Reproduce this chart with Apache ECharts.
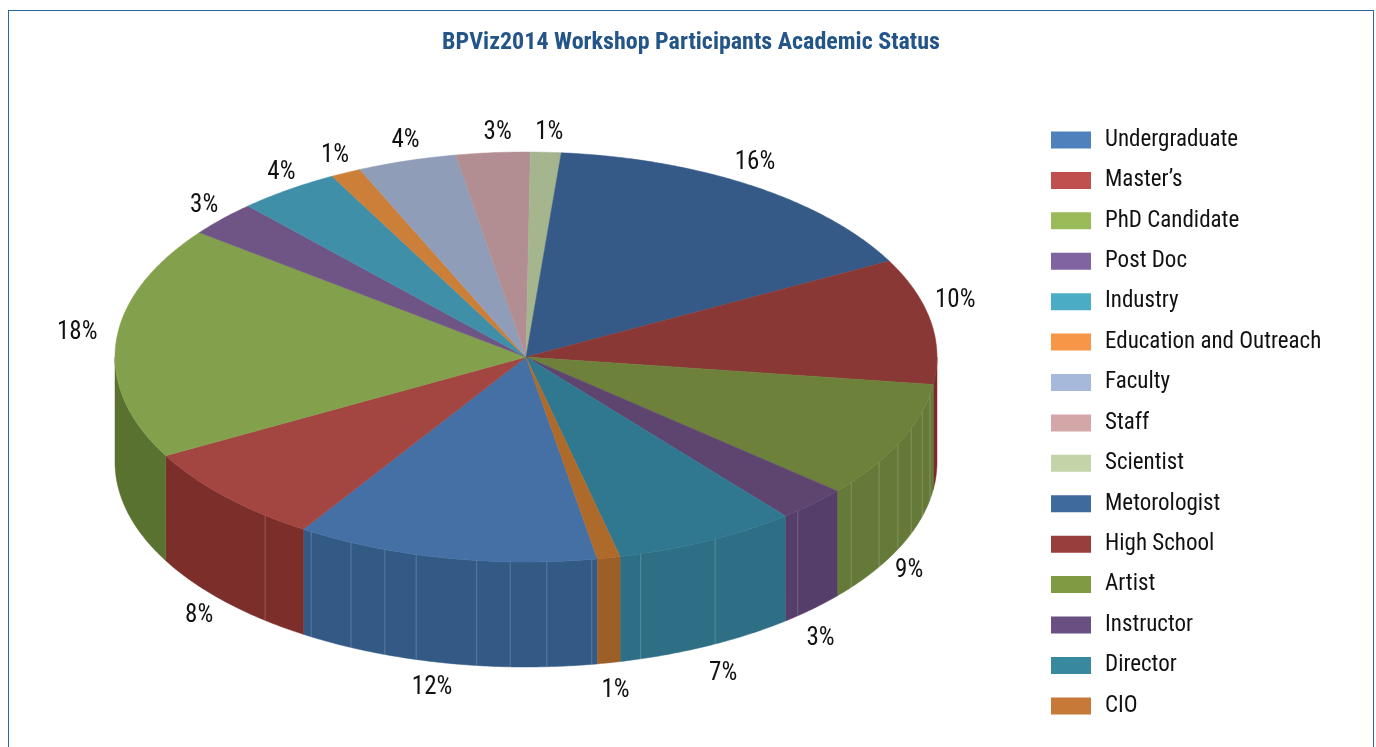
<!DOCTYPE html>
<html>
<head>
<meta charset="utf-8">
<title>BPViz2014 Workshop Participants Academic Status</title>
<script src="https://cdn.jsdelivr.net/npm/echarts@6/dist/echarts.min.js"></script>
<style>
  html, body { margin: 0; height: 100%; overflow: hidden; background: #fff; }
  #frame { position: absolute; left: 8px; top: 10px; width: 1364px; height: 800px; border: 1.5px solid #2f63a0; }
  #main { position: absolute; left: 0; top: 0; width: 1376px; height: 747px; }
</style>
</head>
<body>
<div id="frame"></div>
<div id="main"></div>
<script>
const categories = ['Undergraduate', 'Master’s', 'PhD Candidate', 'Post Doc', 'Industry', 'Education and Outreach', 'Faculty', 'Staff', 'Scientist', 'Metorologist', 'High School', 'Artist', 'Instructor', 'Director', 'CIO']
// percent shares
const shares = [11.9, 7.9, 18.4, 2.8, 4.0, 1.2, 3.9, 2.9, 1.2, 15.9, 9.9, 9.2, 2.8, 7.2, 0.9]

const legendColors = ['#4f81bd', '#c0504d', '#9bbb59', '#8064a2', '#4bacc6', '#f79646', '#a7b9da', '#d3a6a8', '#c2d4a8', '#3f6a9e', '#983f3d', '#7f9a43', '#6a5082', '#38899f', '#c77a38']
const topColors = ['#4470a5', '#a34540', '#83a04c', '#6f5585', '#3f8fa8', '#cb7f38', '#8f9db9', '#b28e92', '#a5b58e', '#355a87', '#893836', '#6d813b', '#5d4570', '#2f788f', '#ad6a2b']
const wallColors = ['#335a85', '#7b2e2a', '#5a7230', '#4f3a60', '#2e6f85', '#a56b30', '#7a86a0', '#97787c', '#8c9a78', '#2c4c72', '#7a2c2a', '#657a38', '#553e6a', '#2e6f85', '#9b5f27']

// faint vertical seams on the side wall, as angles clockwise from 12 o'clock
const wallSeams = [100.6, 105.4, 110.4, 115.2, 120.8, 127.7, 138.6, 152.6, 163.8, 170.8, 177.1, 182.2, 186.9, 195.5, 200.1, 205.2, 211.5, 219.4]
// label shift from the default ring, [dx, dy] per category
const labelShift = [[-7, 2], [-5, -2], [-10, -7], [3, 3], [10, 2], [2, 4], [7, 2], [7, 3], [2, 3], [-14, -4], [-4, -16], [-18, 15], [-12, 13], [3, 7], [1, 5]]

const FONT = '"Roboto Condensed", "Liberation Sans", sans-serif'
const pie = {cx: 526, cy: 357, rx: 411, ry: 205, depth: 105, startDeg: 170, labelRx: 440, labelRy: 228}

const total = shares.reduce((a, b) => a + b, 0)
const bounds = [pie.startDeg]
shares.forEach((v, i) => bounds.push(bounds[i] + v / total * 360))

// angle is clockwise from 12 o'clock
const rim = (deg, dy = 0) => {
  const r = deg * Math.PI / 180
  return [pie.cx + pie.rx * Math.sin(r), pie.cy - pie.ry * Math.cos(r) + dy]
}

const arc = (from, to, dy = 0) => {
  const pts = []
  const n = Math.max(2, Math.ceil((to - from) * 2))
  for (let i = 0; i <= n; i++) pts.push(rim(from + (to - from) * i / n, dy))
  return pts
}

// part of a slice's rim which faces the viewer (90..270, also after one full turn)
const frontPart = (from, to) => {
  const parts = []
  ;[0, 360].forEach(turn => {
    const a = Math.max(from, 90 + turn)
    const b = Math.min(to, 270 + turn)
    if (b > a) parts.push([a, b])
  })
  return parts
}

const renderSlice = (params) => {
  const i = params.seriesIndex
  const from = bounds[i]
  const to = bounds[i + 1]
  const mid = (from + to) / 2
  const children = []

  frontPart(from, to).forEach(([a, b]) => {
    const points = arc(a, b).concat(arc(a, b, pie.depth).reverse())
    children.push({
      type: 'polygon',
      z2: 1,
      shape: {points},
      style: {fill: wallColors[i], stroke: wallColors[i], lineWidth: 0.5}
    })
    wallSeams.flatMap(s => [s, s + 360]).filter(s => s > a && s < b).forEach(s => {
      const [x1, y1] = rim(s)
      const [x2, y2] = rim(s, pie.depth)
      children.push({
        type: 'line',
        z2: 1.5,
        shape: {x1, y1, x2, y2},
        style: {stroke: 'rgba(255,255,255,0.2)', lineWidth: 1}
      })
    })
  })

  children.push({
    type: 'polygon',
    z2: 2,
    shape: {points: [[pie.cx, pie.cy]].concat(arc(from, to))},
    style: {fill: topColors[i], stroke: topColors[i], lineWidth: 0.5}
  })

  const r = mid * Math.PI / 180
  const front = Math.cos(r) < -0.2
  children.push({
    type: 'text',
    z2: 3,
    style: {
      text: Math.round(shares[i]) + '%',
      x: pie.cx + pie.labelRx * Math.sin(r) + labelShift[i][0],
      y: pie.cy - pie.labelRy * Math.cos(r) + (front ? pie.depth : 0) + labelShift[i][1],
      align: 'center',
      verticalAlign: 'middle',
      fill: '#111',
      font: '25px ' + FONT
    }
  })
  return {type: 'group', children}
}

const chart = echarts.init(document.getElementById('main'))
chart.setOption({
  animation: false,
  title: {
    text: 'BPViz2014 Workshop Participants Academic Status',
    left: 686,
    top: 26,
    textAlign: 'center',
    textStyle: {color: '#235589', fontSize: 24, fontWeight: 'bold', fontFamily: FONT}
  },
  legend: {
    orient: 'vertical',
    left: 1046,
    top: 121.5,
    itemWidth: 40,
    itemHeight: 17,
    itemGap: 13.42,
    icon: 'rect',
    data: categories,
    textStyle: {color: '#111', fontSize: 23, fontFamily: FONT, padding: [3, 0, 0, 9], lineHeight: 24},
    selectedMode: false
  },
  series: categories.map((name, i) => ({
    type: 'custom',
    name,
    coordinateSystem: 'none',
    silent: true,
    itemStyle: {color: legendColors[i]},
    data: [[shares[i]]],
    renderItem: renderSlice
  }))
})
</script>
</body>
</html>
